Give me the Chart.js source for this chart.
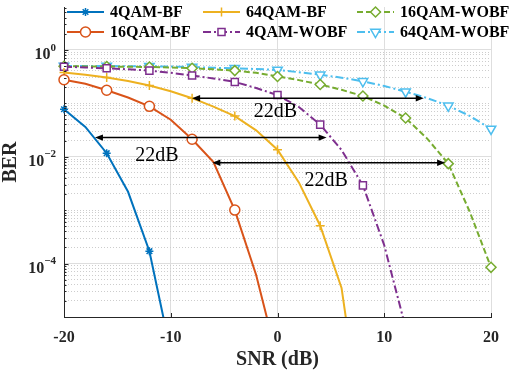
<!DOCTYPE html>
<html>
<head>
<meta charset="utf-8">
<title>BER vs SNR</title>
<script src="https://cdn.jsdelivr.net/npm/chart.js@4.4.1/dist/chart.umd.min.js"></script>
<style>
    html, body { margin: 0; padding: 0; background: #fff; }
    #wrap { width: 523px; height: 372px; }
</style>
</head>
<body>
<div id="wrap"><canvas id="ber-chart" width="523" height="372"></canvas></div>
<script>
// SNR grid (dB), one sample every 2 dB, markers every 4 dB
var snr = [-20, -18, -16, -14, -12, -10, -8, -6, -4, -2, 0, 2, 4, 6, 8, 10, 12, 14, 16, 18, 20];

// BER (null = below the plotted range)
var ber4qamBF = [0.077, 0.036, 0.0116, 0.0022, 1.7e-4, 2.2e-6, null, null, null, null, null, null, null, null, null, null, null, null, null, null, null];
var ber16qamBF = [0.275, 0.23, 0.175, 0.128, 0.0873, 0.049, 0.0211, 0.0079, 0.001, 6.1e-5, 1.6e-6, null, null, null, null, null, null, null, null, null, null];
var ber64qamBF = [0.374, 0.34, 0.303, 0.26, 0.214, 0.167, 0.124, 0.086, 0.0573, 0.031, 0.0135, 0.0033, 5.1e-4, 3.5e-5, 6e-8, null, null, null, null, null, null];
var ber4qamWOBF = [0.481, 0.465, 0.45, 0.43, 0.407, 0.37, 0.33, 0.29, 0.25, 0.192, 0.142, 0.085, 0.0397, 0.0133, 0.0029, 2.2e-4, 6.3e-6, null, null, null, null];
var ber16qamWOBF = [0.49, 0.488, 0.485, 0.48, 0.475, 0.465, 0.45, 0.43, 0.407, 0.37, 0.316, 0.27, 0.223, 0.178, 0.136, 0.09, 0.0527, 0.022, 0.0074, 9.4e-4, 8.5e-5];
var ber64qamWOBF = [0.495, 0.495, 0.495, 0.49, 0.49, 0.485, 0.475, 0.46, 0.45, 0.435, 0.419, 0.38, 0.34, 0.30, 0.257, 0.21, 0.164, 0.125, 0.0895, 0.058, 0.033];

var seriesNames = ['4QAM-BF', '16QAM-BF', '64QAM-BF', '4QAM-WOBF', '16QAM-WOBF', '64QAM-WOBF'];

// axis ticks
var xTicks = [-20, -10, 0, 10, 20];
var yLabelValues = [1, 1e-2, 1e-4];
var yLabelBase = ['10', '10', '10'];
var yLabelExp = ['0', '\u22122', '\u22124'];

// 22 dB gap arrows (SNR from / to, BER level) and their labels
var arrowFrom = [-8, -17.1, -6.1];
var arrowTo = [13.7, 4.6, 15.7];
var arrowBer = [0.124, 0.0227, 0.0077];
var gapText = ['22dB', '22dB', '22dB'];
var gapTextSnr = [-0.2, -11.3, 4.55];
var gapTextBer = [0.0687, 0.0103, 0.0035];

var SERIF = "'Liberation Serif', 'Times New Roman', serif";
var AXIS_COLOR = '#262626';

function buildPoints(values) {
    var pts = [];
    for (var i = 0; i < snr.length; i++) {
        if (values[i] !== null) pts.push({ x: snr[i], y: values[i] });
    }
    return pts;
}

function isMajorDecade(v) {
    var e = Math.log10(v);
    var r = Math.round(e);
    return Math.abs(e - r) < 1e-6 && r % 2 === 0;
}

function makeSeries(values, name, color, dash, style, radius, rotation, fill) {
    return {
        label: name,
        data: buildPoints(values),
        borderColor: color,
        borderWidth: 2,
        borderDash: dash,
        backgroundColor: fill,
        pointStyle: style,
        pointRotation: rotation,
        pointBorderColor: color,
        pointBackgroundColor: fill,
        pointBorderWidth: 1.5,
        markerSize: radius,
        pointRadius: function (ctx) {
            return ctx.raw && ctx.raw.x % 4 === 0 ? radius : 0;
        },
        pointHoverRadius: 0,
        tension: 0,
        clip: { left: 10, right: 10, top: 10, bottom: 0 }
    };
}

var datasets = [
    makeSeries(ber4qamBF, seriesNames[0], '#0072BD', [], 'star', 4, 0, '#0072BD'),
    makeSeries(ber16qamBF, seriesNames[1], '#D95319', [], 'circle', 5, 0, '#ffffff'),
    makeSeries(ber64qamBF, seriesNames[2], '#EDB120', [], 'cross', 4.5, 0, '#EDB120'),
    makeSeries(ber4qamWOBF, seriesNames[3], '#7E2F8E', [8, 3, 2, 3], 'rect', 5, 0, '#ffffff'),
    makeSeries(ber16qamWOBF, seriesNames[4], '#77AC30', [6, 3], 'rectRot', 5, 0, '#ffffff'),
    makeSeries(ber64qamWOBF, seriesNames[5], '#4DBEEE', [8, 3, 2, 3], 'triangle', 5.5, 180, '#ffffff')
];

function yTickValues() {
    var list = [];
    for (var e = -5; e <= 0; e++) {
        for (var k = 1; k <= 9; k++) {
            var v = k * Math.pow(10, e);
            if (v <= 6.3) list.push({ value: v });
        }
    }
    return list;
}

function drawMarker(ctx, ds, x, y) {
    ctx.save();
    ctx.setLineDash([]);
    ctx.lineWidth = ds.pointBorderWidth;
    ctx.strokeStyle = ds.pointBorderColor;
    ctx.fillStyle = ds.pointBackgroundColor;
    Chart.helpers.drawPoint(ctx, {
        pointStyle: ds.pointStyle,
        rotation: ds.pointRotation,
        radius: ds.markerSize,
        borderWidth: ds.pointBorderWidth
    }, x, y);
    ctx.restore();
}

function drawArrows(chart) {
    var ctx = chart.ctx;
    var xs = chart.scales.x, ys = chart.scales.y;
    ctx.save();
    ctx.strokeStyle = '#000';
    ctx.fillStyle = '#000';
    ctx.lineWidth = 1.5;
    for (var i = 0; i < arrowFrom.length; i++) {
        var x0 = xs.getPixelForValue(arrowFrom[i]);
        var x1 = xs.getPixelForValue(arrowTo[i]);
        var y = ys.getPixelForValue(arrowBer[i]);
        var head = 8, half = 3.2;
        ctx.beginPath();
        ctx.moveTo(x0 + head - 1, y);
        ctx.lineTo(x1 - head + 1, y);
        ctx.stroke();
        ctx.beginPath();
        ctx.moveTo(x0, y);
        ctx.lineTo(x0 + head, y - half);
        ctx.lineTo(x0 + head, y + half);
        ctx.closePath();
        ctx.fill();
        ctx.beginPath();
        ctx.moveTo(x1, y);
        ctx.lineTo(x1 - head, y - half);
        ctx.lineTo(x1 - head, y + half);
        ctx.closePath();
        ctx.fill();
    }
    ctx.font = '20px ' + SERIF;
    ctx.textAlign = 'center';
    ctx.textBaseline = 'middle';
    for (var j = 0; j < gapText.length; j++) {
        ctx.fillText(gapText[j], xs.getPixelForValue(gapTextSnr[j]), ys.getPixelForValue(gapTextBer[j]));
    }
    ctx.restore();
}

function drawAxisBits(chart) {
    var ctx = chart.ctx;
    var area = chart.chartArea;
    var xs = chart.scales.x, ys = chart.scales.y;
    ctx.save();
    ctx.strokeStyle = AXIS_COLOR;
    ctx.lineWidth = 1;
    // inward ticks on the bottom axis
    xTicks.forEach(function (v) {
        var x = Math.round(xs.getPixelForValue(v)) + 0.5;
        ctx.beginPath();
        ctx.moveTo(x, area.bottom);
        ctx.lineTo(x, area.bottom - 4);
        ctx.stroke();
    });
    // inward ticks on the left axis
    ys.ticks.forEach(function (t) {
        var y = Math.round(ys.getPixelForValue(t.value)) + 0.5;
        var len = isMajorDecade(t.value) ? 4.5 : 2.5;
        ctx.beginPath();
        ctx.moveTo(area.left, y);
        ctx.lineTo(area.left + len, y);
        ctx.stroke();
    });
    // y labels as 10 with a raised exponent
    ctx.fillStyle = AXIS_COLOR;
    ctx.textAlign = 'right';
    ctx.textBaseline = 'middle';
    for (var i = 0; i < yLabelValues.length; i++) {
        var yy = ys.getPixelForValue(yLabelValues[i]);
        var right = area.left - 8;
        ctx.font = 'bold 11px ' + SERIF;
        var ew = ctx.measureText(yLabelExp[i]).width;
        ctx.fillText(yLabelExp[i], right, yy - 2);
        ctx.font = 'bold 16px ' + SERIF;
        ctx.fillText(yLabelBase[i], right - ew, yy + 5.5);
    }
    ctx.restore();
}

function drawLegend(chart) {
    var ctx = chart.ctx;
    var colX = [67, 203, 357];
    var rowY = [12, 32];
    var lineLen = 37;
    ctx.save();
    for (var i = 0; i < datasets.length; i++) {
        var ds = datasets[i];
        var x0 = colX[Math.floor(i / 2)];
        var y = rowY[i % 2];
        ctx.strokeStyle = ds.borderColor;
        ctx.lineWidth = ds.borderWidth;
        ctx.setLineDash(ds.borderDash);
        ctx.beginPath();
        ctx.moveTo(x0, y);
        ctx.lineTo(x0 + lineLen, y);
        ctx.stroke();
        drawMarker(ctx, ds, x0 + lineLen / 2, y);
        ctx.setLineDash([]);
        ctx.fillStyle = '#000';
        ctx.font = 'bold 16px ' + SERIF;
        ctx.textAlign = 'left';
        ctx.textBaseline = 'middle';
        ctx.fillText(ds.label, x0 + lineLen + 6, y + 1);
    }
    ctx.restore();
}

var berExtras = {
    id: 'berExtras',
    afterDatasetsDraw: function (chart) {
        drawArrows(chart);
    },
    afterDraw: function (chart) {
        drawAxisBits(chart);
        drawLegend(chart);
    }
};

Chart.defaults.font.family = SERIF;

var berChart = new Chart(document.getElementById('ber-chart').getContext('2d'), {
    type: 'line',
    data: { datasets: datasets },
    options: {
        responsive: false,
        animation: false,
        devicePixelRatio: 1,
        layout: { padding: { left: 0, right: 32, top: 0, bottom: 0 } },
        plugins: {
            legend: { display: false },
            tooltip: { enabled: false }
        },
        scales: {
            x: {
                type: 'linear',
                min: -20,
                max: 20,
                afterBuildTicks: function (scale) {
                    scale.ticks = xTicks.map(function (v) { return { value: v }; });
                },
                afterFit: function (scale) { scale.height = 55; },
                ticks: {
                    padding: 11,
                    color: AXIS_COLOR,
                    font: { size: 16, weight: 'bold' },
                    maxRotation: 0,
                    callback: function (v) { return String(v); }
                },
                grid: {
                    drawTicks: false,
                    lineWidth: 1,
                    color: function (ctx) {
                        return ctx.tick && ctx.tick.value === -20 ? 'rgba(0,0,0,0)' : '#dedede';
                    }
                },
                border: { display: true, color: AXIS_COLOR, width: 1 },
                title: {
                    display: true,
                    text: 'SNR (dB)',
                    color: AXIS_COLOR,
                    font: { size: 20, weight: 'bold', lineHeight: 1.0 },
                    padding: { top: 0, bottom: 2 }
                }
            },
            y: {
                type: 'logarithmic',
                min: 1e-5,
                max: 6.3,
                afterBuildTicks: function (scale) { scale.ticks = yTickValues(); },
                afterFit: function (scale) { scale.width = 64; },
                ticks: { display: false },
                grid: {
                    drawTicks: false,
                    lineWidth: 1,
                    color: function (ctx) {
                        if (!ctx.tick || ctx.tick.value > 1.0001) return 'rgba(0,0,0,0)';
                        return isMajorDecade(ctx.tick.value) ? '#dedede' : '#cdcdcd';
                    }
                },
                border: {
                    display: true,
                    color: AXIS_COLOR,
                    width: 1,
                    dash: function (ctx) {
                        return ctx.tick && !isMajorDecade(ctx.tick.value) ? [1, 2] : [];
                    }
                },
                title: {
                    display: true,
                    text: 'BER',
                    color: AXIS_COLOR,
                    font: { size: 20, weight: 'bold', lineHeight: 1.1 },
                    padding: { top: 0, bottom: 0 }
                }
            }
        }
    },
    plugins: [berExtras]
});
</script>
</body>
</html>
